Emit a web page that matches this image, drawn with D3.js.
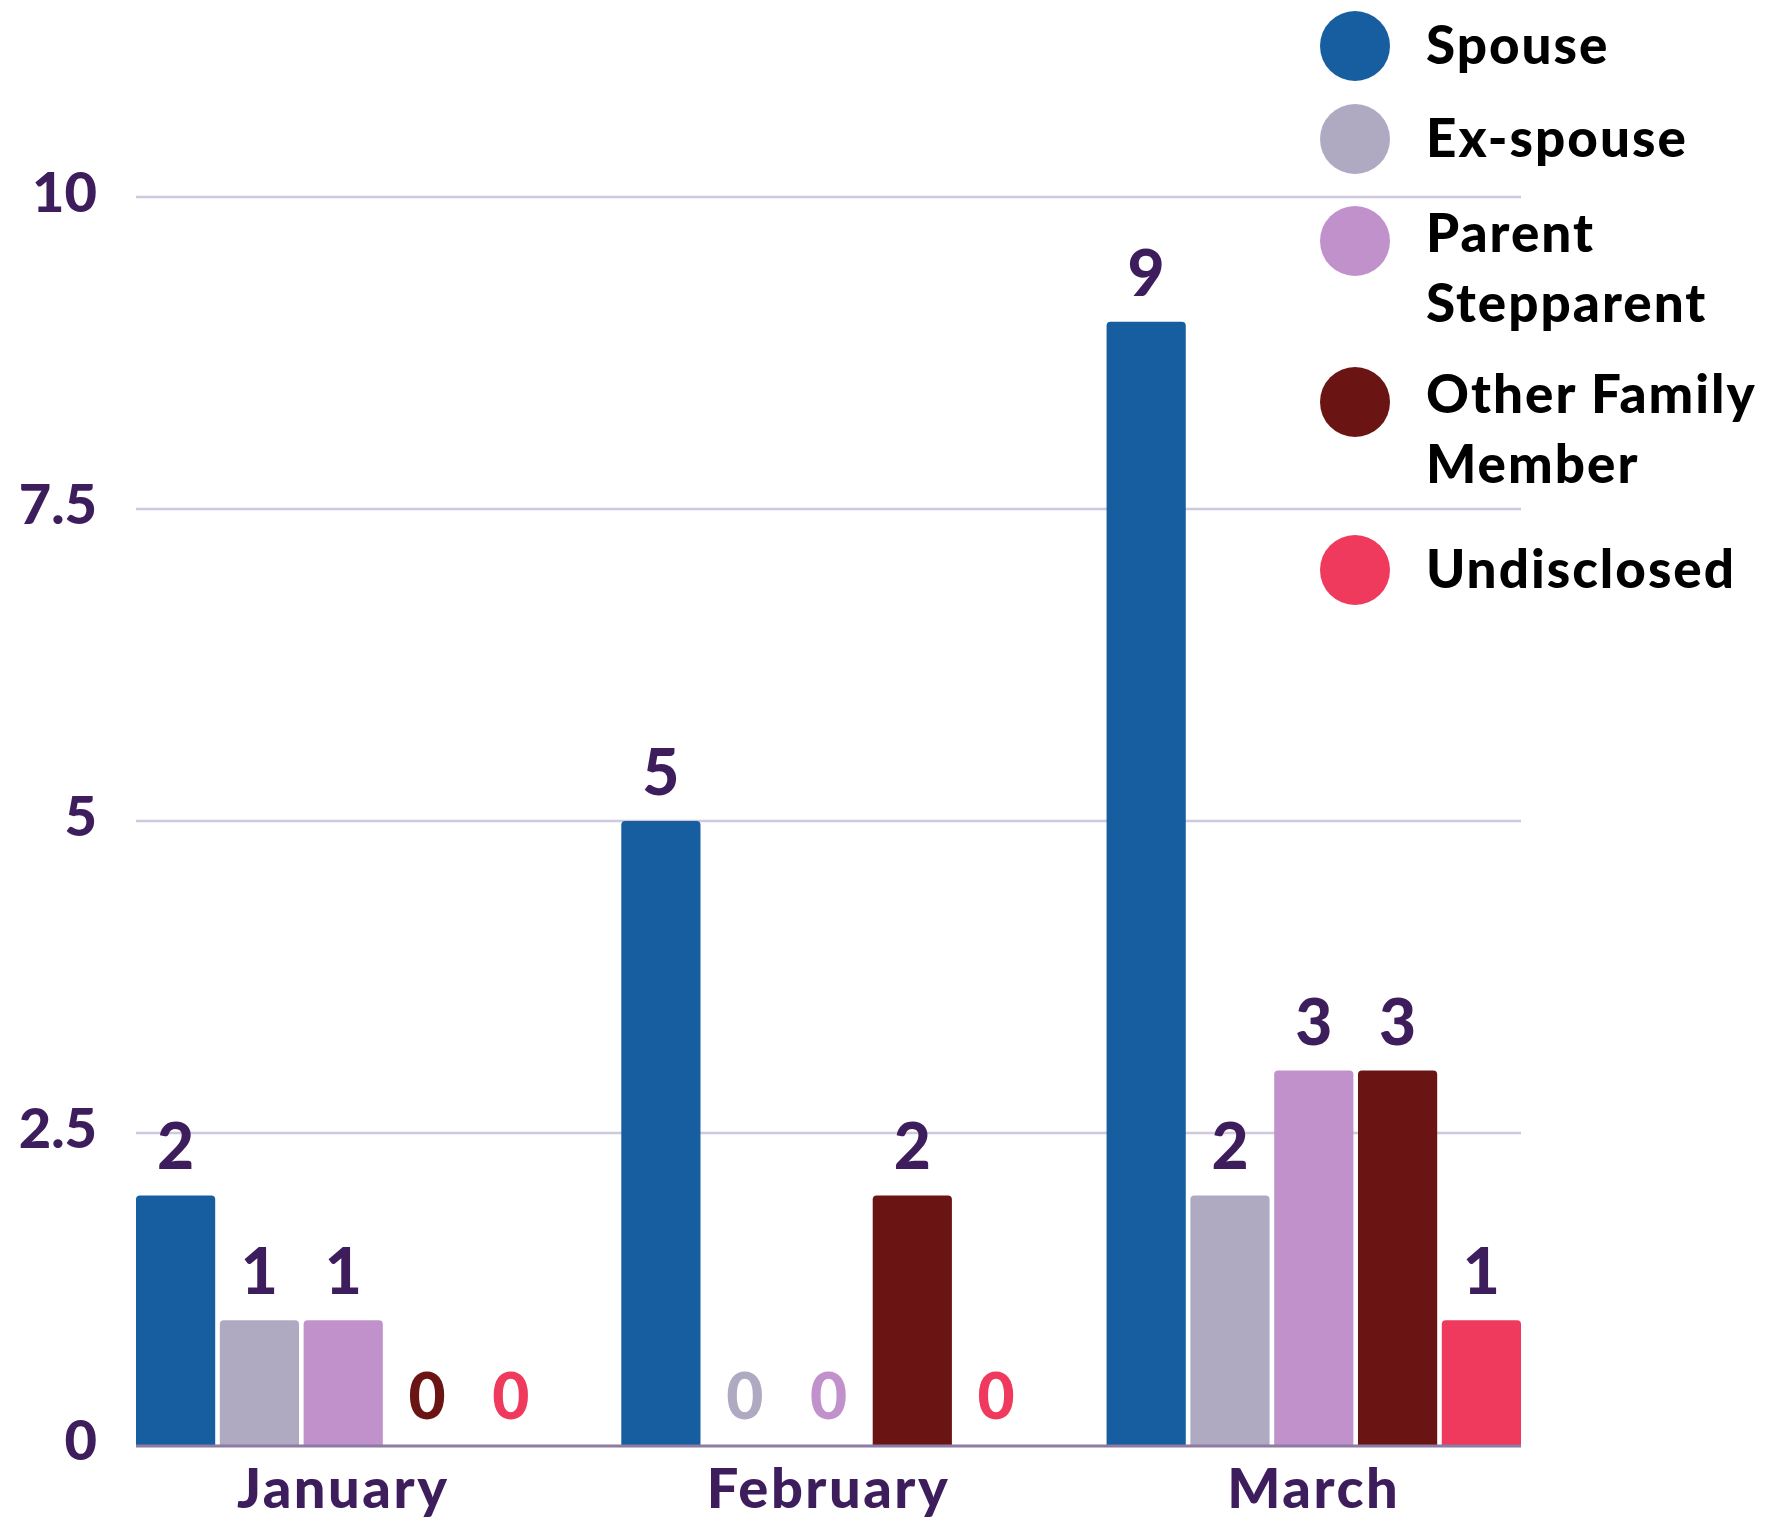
<!DOCTYPE html>
<html>
<head>
<meta charset="utf-8">
<script src="https://cdn.jsdelivr.net/npm/d3@7"></script>
<style>
  body { margin: 0; background: #fff; }
  svg { display: block; font-family: Lato, "Open Sans", sans-serif; }
</style>
</head>
<body>
<svg id="chart" width="1774" height="1522"></svg>
<script>
// chart data
const months = ["January", "February", "March"];
const seriesNames = ["Spouse", "Ex-spouse", "Parent Stepparent", "Other Family Member", "Undisclosed"];
const legendLines = [["Spouse"], ["Ex-spouse"], ["Parent", "Stepparent"], ["Other Family", "Member"], ["Undisclosed"]];
const spouse = [2, 5, 9];
const exSpouse = [1, 0, 2];
const parentStep = [1, 0, 3];
const otherFamily = [0, 2, 3];
const undisclosed = [0, 0, 1];
const yTicks = [0, 2.5, 5, 7.5, 10];

const colors = ["#165e9f", "#afaac1", "#c191cc", "#6a1414", "#ef3a5d"];
const textColor = "#3d1d5c";

const allSeries = [spouse, exSpouse, parentStep, otherFamily, undisclosed];

// flatten to one row per bar
const rows = [];
months.forEach((m, i) => {
    seriesNames.forEach((s, j) => {
        rows.push({ month: m, series: s, value: allSeries[j][i], color: colors[j] });
    });
});

const svg = d3.select("#chart");
const margin = { top: 197, left: 136, right: 1521, bottom: 1445 };

const x0 = d3.scaleBand()
    .domain(months)
    .range([margin.left, margin.right])
    .paddingInner(0.146)
    .paddingOuter(0);
const x1 = d3.scaleBand()
    .domain(seriesNames)
    .range([0, x0.bandwidth()])
    .paddingInner(0.055)
    .paddingOuter(0);
const y = d3.scaleLinear()
    .domain([0, 10])
    .range([margin.bottom, margin.top]);

// gridlines
svg.append("g")
    .selectAll("line")
    .data(yTicks.filter(d => d > 0))
    .join("line")
    .attr("x1", margin.left)
    .attr("x2", margin.right)
    .attr("y1", d => y(d))
    .attr("y2", d => y(d))
    .attr("stroke", "#d0c8dc")
    .attr("stroke-width", 2.5);

// y labels
svg.append("g")
    .selectAll("text")
    .data(yTicks)
    .join("text")
    .attr("x", 97)
    .attr("y", d => y(d) + 15)
    .attr("text-anchor", "end")
    .attr("font-size", 56)
    .attr("font-weight", 900)
    .attr("fill", textColor)
    .text(d => d);

// bars with rounded top corners
const r = 4;
function barPath(d) {
    const bx = x0(d.month) + x1(d.series);
    const w = x1.bandwidth();
    const top = y(d.value), bot = y(0);
    if (bot - top < r) return "";
    return `M${bx},${bot}V${top + r}Q${bx},${top} ${bx + r},${top}H${bx + w - r}Q${bx + w},${top} ${bx + w},${top + r}V${bot}Z`;
}
svg.append("g")
    .selectAll("path")
    .data(rows)
    .join("path")
    .attr("d", barPath)
    .attr("fill", d => d.color);

// baseline
svg.append("line")
    .attr("x1", margin.left)
    .attr("x2", margin.right)
    .attr("y1", y(0) + 1)
    .attr("y2", y(0) + 1)
    .attr("stroke", "#8e7ba3")
    .attr("stroke-width", 3);

// value labels
svg.append("g")
    .selectAll("text")
    .data(rows)
    .join("text")
    .attr("x", d => x0(d.month) + x1(d.series) + x1.bandwidth() / 2)
    .attr("y", d => y(d.value) - 26)
    .attr("text-anchor", "middle")
    .attr("font-size", 64)
    .attr("font-weight", 900)
    .attr("fill", d => d.value === 0 ? d.color : textColor)
    .text(d => d.value);

// month labels
svg.append("g")
    .selectAll("text")
    .data(months)
    .join("text")
    .attr("x", d => x0(d) + x0.bandwidth() / 2)
    .attr("y", 1508)
    .attr("text-anchor", "middle")
    .attr("font-size", 56)
    .attr("font-weight", 900)
    .attr("letter-spacing", 2.5)
    .attr("fill", textColor)
    .text(d => d);

// legend
const legendY = [46, 139, 241, 402, 570];
const legend = svg.append("g")
    .selectAll("g")
    .data(seriesNames)
    .join("g")
    .attr("transform", (d, i) => `translate(1355,${legendY[i]})`);
legend.append("circle")
    .attr("r", 35)
    .attr("fill", (d, i) => colors[i]);
legend.each(function (d, i) {
    const lines = legendLines[i];
    const t = d3.select(this).append("text")
        .attr("x", 71)
        .attr("y", lines.length > 1 ? 11 : 18)
        .attr("font-size", 53)
        .attr("font-weight", 900)
        .attr("letter-spacing", 2)
        .attr("fill", "#000");
    lines.forEach((ln, k) => {
        t.append("tspan")
            .attr("x", 71)
            .attr("dy", k === 0 ? 0 : 70)
            .text(ln);
    });
});
</script>
</body>
</html>
